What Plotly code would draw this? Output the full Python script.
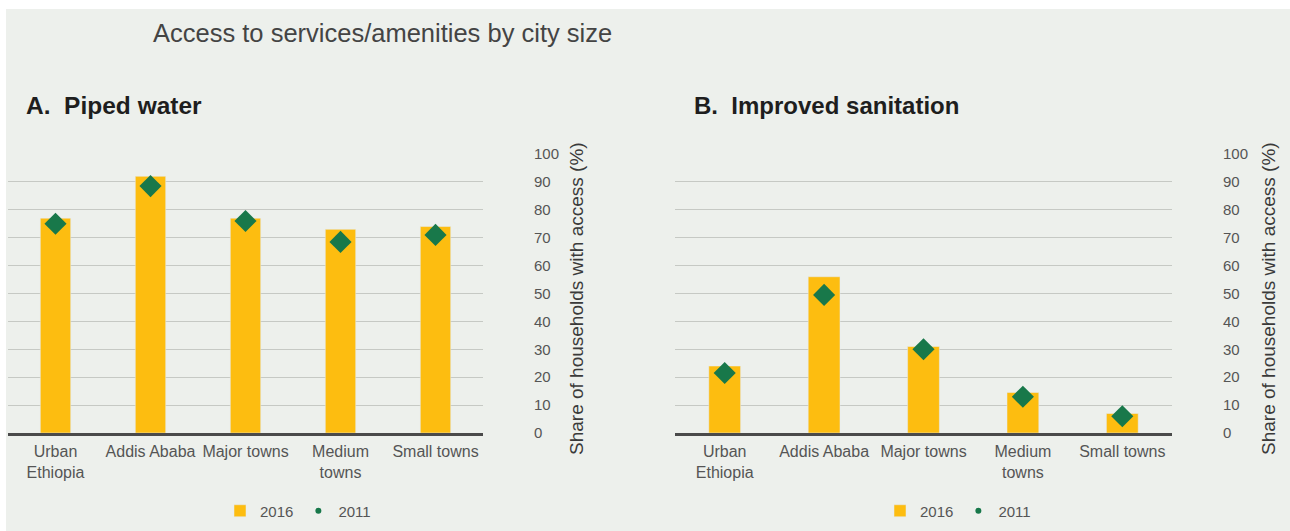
import plotly.graph_objects as go

categories = ["Urban<br>Ethiopia", "Addis Ababa", "Major towns", "Medium<br>towns", "Small towns"]
water_2016 = [77, 92, 77, 73, 74]
water_2011 = [75, 88.5, 76, 68.5, 71]
sanit_2016 = [24, 56, 31, 14.5, 7]
sanit_2011 = [21.5, 49.5, 30, 13, 6]
y_ticks = [0, 10, 20, 30, 40, 50, 60, 70, 80, 90, 100]

W, H = 1290, 531
BG = "#edf0ec"
YEL = "#fdbd10"
GRN = "#18784a"

def px(x):
    return x / W

def py(y):
    return 1 - y / H

fig = go.Figure()

fig.add_trace(go.Bar(x=categories, y=water_2016, marker_color=YEL, name="2016",
                     xaxis="x", yaxis="y", showlegend=False))
fig.add_trace(go.Scatter(x=categories, y=water_2011, mode="markers", name="2011",
                         marker=dict(symbol="diamond", size=17, color=GRN),
                         xaxis="x", yaxis="y", showlegend=False))
fig.add_trace(go.Bar(x=categories, y=sanit_2016, marker_color=YEL, name="2016",
                     xaxis="x2", yaxis="y2", showlegend=False))
fig.add_trace(go.Scatter(x=categories, y=sanit_2011, mode="markers", name="2011",
                         marker=dict(symbol="diamond", size=17, color=GRN),
                         xaxis="x2", yaxis="y2", showlegend=False))

# legend entries
for lg in ["legend", "legend2"]:
    fig.add_trace(go.Bar(x=[None], y=[None], marker_color=YEL, name="2016", legend=lg,
                         xaxis="x", yaxis="y"))
    fig.add_trace(go.Scatter(x=[None], y=[None], mode="markers", name="2011", legend=lg,
                             marker=dict(symbol="circle", size=6, color=GRN),
                             xaxis="x", yaxis="y"))

font_family = "Liberation Sans, Arial, sans-serif"

xcommon = dict(type="category", showgrid=False, showline=True, linecolor="#4a4a4a",
               linewidth=3, ticks="outside", ticklen=2, tickcolor="rgba(0,0,0,0)",
               tickfont=dict(size=16, color="#555555", family=font_family), zeroline=False,
               range=[-0.5, 4.5], fixedrange=True, automargin=False)
ycommon = dict(range=[0, 100], tickvals=y_ticks, side="right", showgrid=True,
               gridcolor="#c6c9c4", gridwidth=1, zeroline=False, ticks="outside",
               ticklen=47, tickcolor="rgba(0,0,0,0)", automargin=False, fixedrange=True,
               tickfont=dict(size=15, color="#555555", family=font_family))

ydom = [py(433), py(154)]

fig.update_layout(
    width=W, height=H, autosize=False,
    margin=dict(l=0, r=0, t=0, b=0, pad=0, autoexpand=False),
    paper_bgcolor="white",
    plot_bgcolor="rgba(0,0,0,0)",
    font=dict(family=font_family, color="#444444"),
    bargap=0.68,
    xaxis=dict(domain=[px(8), px(483)], anchor="y", **xcommon),
    yaxis=dict(domain=ydom, anchor="x", **ycommon),
    xaxis2=dict(domain=[px(675), px(1172)], anchor="y2", **xcommon),
    yaxis2=dict(domain=ydom, anchor="x2", **ycommon),
    legend=dict(orientation="h", x=px(220), y=py(511), xanchor="left", yanchor="middle",
                bgcolor="rgba(0,0,0,0)", font=dict(size=15, color="#555555"),
                itemwidth=30, tracegroupgap=0),
    legend2=dict(orientation="h", x=px(880), y=py(511), xanchor="left", yanchor="middle",
                 bgcolor="rgba(0,0,0,0)", font=dict(size=15, color="#555555"),
                 itemwidth=30, tracegroupgap=0),
    shapes=[dict(type="rect", xref="paper", yref="paper", x0=px(6), x1=1, y0=0, y1=py(9),
                 fillcolor=BG, line=dict(width=0), layer="below")],
    annotations=[
        dict(text="Access to services/amenities by city size", x=px(151), y=py(33),
             xref="paper", yref="paper", xanchor="left", yanchor="middle", showarrow=False,
             font=dict(size=25.5, color="#444444")),
        dict(text="<b>A.  Piped water</b>", x=px(24), y=py(106), xref="paper", yref="paper",
             xanchor="left", yanchor="middle", showarrow=False,
             font=dict(size=24.5, color="#1e1e1e")),
        dict(text="<b>B.  Improved sanitation</b>", x=px(692), y=py(106), xref="paper",
             yref="paper", xanchor="left", yanchor="middle", showarrow=False,
             font=dict(size=24, color="#1e1e1e")),
        dict(text="Share of households with access (%)", x=px(576), y=py(299), xref="paper",
             yref="paper", xanchor="center", yanchor="middle", textangle=-90, showarrow=False,
             font=dict(size=19, color="#3a3a3a")),
        dict(text="Share of households with access (%)", x=px(1268), y=py(299), xref="paper",
             yref="paper", xanchor="center", yanchor="middle", textangle=-90, showarrow=False,
             font=dict(size=19, color="#3a3a3a")),
    ],
)

fig.write_html("out.html", config={"displayModeBar": False},
               post_script="document.body.style.margin='0px';document.body.style.overflow='hidden';")
